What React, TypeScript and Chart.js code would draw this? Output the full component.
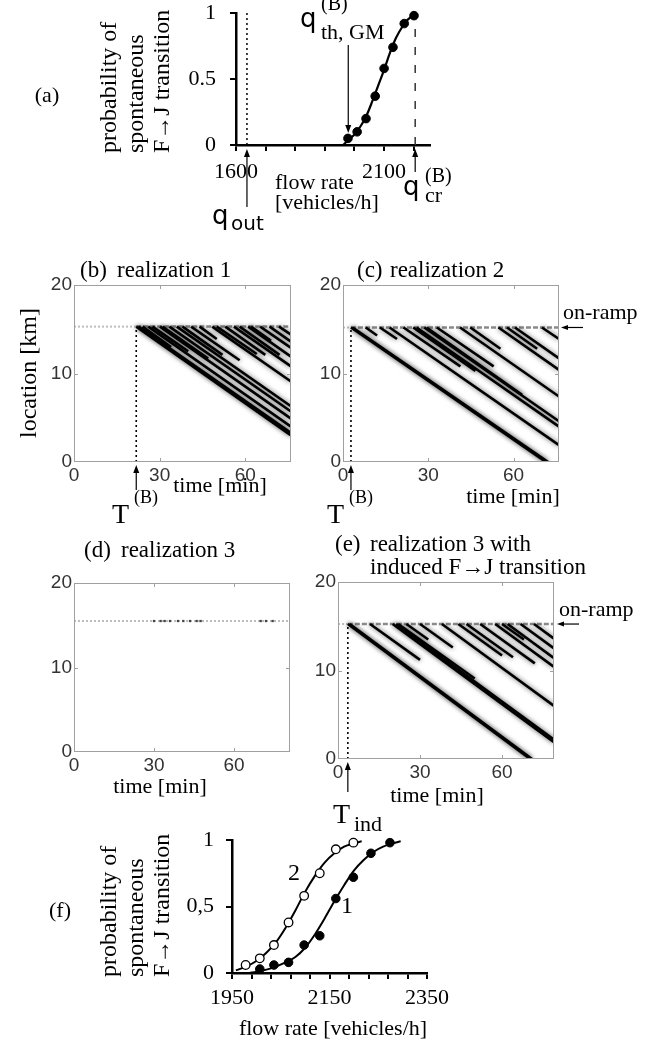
import React, { useEffect, useRef } from 'react';
import { Chart, registerables } from 'chart.js';

Chart.register(...registerables);

const PAGE_W = 653;
const PAGE_H = 1040;
const SERIF = '"Liberation Serif", "Times New Roman", Times, serif';
const SANS = '"Liberation Sans", Arial, Helvetica, sans-serif';
const QSANS = '"DejaVu Sans", "Liberation Sans", sans-serif';
const AXIS_W = 60;
const AXIS_H = 50;

// ---------- (a) probability vs flow rate ----------
const aFlow = [1978, 2009, 2039, 2070, 2100, 2130, 2168, 2201];
const aProb = [0.05, 0.10, 0.20, 0.37, 0.58, 0.74, 0.92, 0.98];
const aCurveFlow = [1962, 1980, 2000, 2020, 2040, 2060, 2080, 2100, 2120, 2140, 2160, 2180, 2200, 2212];
const aCurveProb = [0.0, 0.04, 0.08, 0.14, 0.22, 0.33, 0.45, 0.57, 0.70, 0.81, 0.89, 0.95, 0.98, 0.99];
const aXTicks = [1600, 1700, 1800, 1900, 2000, 2100, 2200];
const aXLabels = [1600, 2100];
const aYTicks = [0, 0.5, 1];
const aYLabels = ['0', '0.5', '1'];
const qOut = 1637;
const qThGM = 1979;
const qCr = 2205;

// ---------- (f) two probability curves ----------
const fFlow1 = [2007, 2036, 2066, 2098, 2130, 2163, 2199, 2235, 2274];
const fProb1 = [0.03, 0.06, 0.08, 0.21, 0.28, 0.56, 0.72, 0.90, 0.98];
const fFlow2 = [1978, 2007, 2036, 2066, 2098, 2130, 2163, 2199];
const fProb2 = [0.06, 0.11, 0.21, 0.38, 0.58, 0.75, 0.93, 0.98];
const fCurve1Flow = [1986, 2000, 2030, 2060, 2080, 2100, 2120, 2140, 2160, 2180, 2200, 2220, 2240, 2260, 2280, 2296];
const fCurve1Prob = [0.0, 0.01, 0.035, 0.08, 0.12, 0.19, 0.29, 0.41, 0.54, 0.66, 0.77, 0.85, 0.91, 0.95, 0.975, 0.99];
const fCurve2Flow = [1958, 1980, 2000, 2020, 2040, 2060, 2080, 2100, 2120, 2140, 2160, 2180, 2200, 2216];
const fCurve2Prob = [0.02, 0.05, 0.09, 0.15, 0.23, 0.34, 0.47, 0.61, 0.73, 0.83, 0.90, 0.95, 0.975, 0.99];
const fXTicks = [1950, 1990, 2030, 2070, 2110, 2150, 2190, 2230, 2270, 2310, 2350];
const fXLabels = [1950, 2150, 2350];
const fYTicks = [0, 0.5, 1];
const fYLabels = ['0', '0,5', '1'];

// ---------- space-time diagrams (b)-(e) ----------
const stXTicks = [0, 30, 60];
const stYTicks = [0, 10, 20];

const bOnRamp = 15.3;
const bT = 21.8;
const bTmax = 76;
const bJamStart = [21.8, 22.6, 26.0, 30.1, 33.4, 36.0, 48.4, 56.0, 61.0, 65.2, 68.5, 71.8, 24.0, 27.5, 31.0, 38.0, 41.0, 44.0, 50.0, 53.0, 58.0, 62.0];
const bJamEnd = [76, 76, 76, 76, 76, 76, 76, 76, 76, 76, 76, 76, 34, 40, 47, 52, 58, 50, 64, 67, 72, 69];
const bJamEndKm = [3.0, 3.3, 4.0, 4.9, 5.7, 6.3, 9.1, 10.8, 11.9, 12.9, 13.6, 14.4, 13.0, 12.5, 11.7, 12.1, 11.5, 13.9, 12.2, 12.1, 12.1, 13.7];

const cOnRamp = 15.2;
const cT = 2.8;
const cTmax = 76;
const cJamStart = [2.8, 3.4, 16.4, 25.9, 28.6, 41.2, 54.7, 60.5, 70.0, 21.3, 24.7, 29.4, 33.0, 44.8, 57.7, 8.0, 13.0];
const cJamEnd = [71.4, 72.2, 76, 76, 76, 76, 76, 76, 76, 41.3, 46.6, 63.0, 53.0, 55.4, 68.3, 12.0, 19.0];
const cJamEndKm = [0, 0, 1.9, 4.0, 4.6, 7.4, 10.4, 11.7, 13.9, 10.8, 10.3, 7.6, 10.8, 12.8, 12.8, 14.3, 13.9];

const dOnRamp = 15.5;
const dTmax = 81;
const dSpots = [30, 32.5, 34, 36, 39, 41, 43.5, 46, 47.5, 70, 72, 74.5];

const eOnRamp = 15.25;
const eT = 3.6;
const eTmax = 79;
const eJamStart = [3.6, 4.3, 20.0, 21.2, 38.0, 57.5, 62.0, 66.8, 71.7, 11.7, 22.0, 25.0, 30.0, 44.0, 47.0, 52.0, 60.0];
const eJamEnd = [70.3, 71.0, 79, 79, 79, 79, 79, 79, 79, 30.0, 50.0, 33.0, 42.0, 60.0, 64.0, 72.0, 68.0];
const eJamEndKm = [0, 0, 1.9, 2.2, 6.0, 10.4, 11.4, 12.5, 13.6, 11.2, 9.1, 13.5, 12.6, 11.7, 11.5, 10.8, 13.5];

// ---------- helpers ----------
type Box = { left: number; top: number; right: number; bottom: number };

// off: the canvas is shifted up by `off` px so that chart areas can start near the page top
const layoutFor = (b: Box, off: number) => ({
  padding: { left: b.left - AXIS_W, top: b.top + off, right: PAGE_W - b.right, bottom: PAGE_H - b.bottom - AXIS_H },
});

const pts = (xs: number[], ys: number[]) => xs.map((x, i) => ({ x, y: ys[i] }));

function text(ctx: any, s: string, x: number, y: number, size: number, opt: any = {}) {
  ctx.save();
  ctx.font = `${size}px ${opt.family || SERIF}`;
  ctx.textAlign = opt.align || 'left';
  ctx.textBaseline = 'alphabetic';
  ctx.fillStyle = opt.color || '#000';
  ctx.fillText(s, x, y);
  ctx.restore();
}

function rotLines(ctx: any, lines: string[], xs: number[], bottom: number, size: number) {
  lines.forEach((s, i) => {
    ctx.save();
    ctx.translate(xs[i], bottom);
    ctx.rotate(-Math.PI / 2);
    ctx.font = `${size}px ${SERIF}`;
    ctx.textAlign = 'left';
    ctx.textBaseline = 'middle';
    ctx.fillStyle = '#000';
    ctx.fillText(s, 0, 0);
    ctx.restore();
  });
}

function rotCenter(ctx: any, s: string, x: number, y: number, size: number) {
  ctx.save();
  ctx.translate(x, y);
  ctx.rotate(-Math.PI / 2);
  ctx.font = `${size}px ${SERIF}`;
  ctx.textAlign = 'center';
  ctx.textBaseline = 'middle';
  ctx.fillStyle = '#000';
  ctx.fillText(s, 0, 0);
  ctx.restore();
}

function arrow(ctx: any, x1: number, y1: number, x2: number, y2: number, lw = 1.2, head = 8, hw = 3) {
  const ang = Math.atan2(y2 - y1, x2 - x1);
  const c = Math.cos(ang);
  const s = Math.sin(ang);
  ctx.save();
  ctx.strokeStyle = '#000';
  ctx.fillStyle = '#000';
  ctx.lineWidth = lw;
  ctx.beginPath();
  ctx.moveTo(x1, y1);
  ctx.lineTo(x2 - head * 0.7 * c, y2 - head * 0.7 * s);
  ctx.stroke();
  ctx.beginPath();
  ctx.moveTo(x2, y2);
  ctx.lineTo(x2 - head * c + hw * s, y2 - head * s - hw * c);
  ctx.lineTo(x2 - head * c - hw * s, y2 - head * s + hw * c);
  ctx.closePath();
  ctx.fill();
  ctx.restore();
}

const haloPlugin = {
  id: 'halo',
  beforeDatasetDraw(chart: any, args: any) {
    const ds = chart.data.datasets[args.index];
    if (ds.halo) {
      const c = chart.ctx;
      c.save();
      c.shadowColor = 'rgba(0,0,0,0.65)';
      c.shadowBlur = 5;
    }
  },
  afterDatasetDraw(chart: any, args: any) {
    const ds = chart.data.datasets[args.index];
    if (ds.halo) chart.ctx.restore();
  },
};

const framePlugin = {
  id: 'frame',
  afterDatasetsDraw(chart: any) {
    const { ctx, chartArea: a, scales } = chart;
    ctx.save();
    ctx.strokeStyle = '#a0a0a0';
    ctx.lineWidth = 1;
    ctx.strokeRect(Math.round(a.left) + 0.5, Math.round(a.top) + 0.5, Math.round(a.right - a.left) - 1, Math.round(a.bottom - a.top) - 1);
    ctx.beginPath();
    stXTicks.slice(1).forEach((v) => {
      const px = Math.round(scales.x.getPixelForValue(v)) + 0.5;
      ctx.moveTo(px, a.top);
      ctx.lineTo(px, a.top + 4);
      ctx.moveTo(px, a.bottom);
      ctx.lineTo(px, a.bottom - 4);
    });
    stYTicks.slice(1, -1).forEach((v) => {
      const py = Math.round(scales.y.getPixelForValue(v)) + 0.5;
      ctx.moveTo(a.left, py);
      ctx.lineTo(a.left + 4, py);
      ctx.moveTo(a.right, py);
      ctx.lineTo(a.right - 4, py);
    });
    ctx.stroke();
    ctx.restore();
  },
};

function annPlugin(off: number, ann: (chart: any) => void) {
  return {
    id: 'ann',
    afterDraw(chart: any) {
      chart.ctx.save();
      chart.ctx.translate(0, off);
      ann(chart);
      chart.ctx.restore();
    },
  };
}

function baseOptions(box: Box, off: number) {
  return {
    responsive: false,
    animation: false,
    devicePixelRatio: 1,
    events: [],
    layout: layoutFor(box, off),
    plugins: { legend: { display: false }, tooltip: { enabled: false } },
  };
}

// ---------- space-time chart config ----------
function jamDatasets(start: number[], end: number[], endKm: number[], onRamp: number) {
  return start.map((t0, i) => ({
    data: [{ x: t0, y: onRamp }, { x: end[i], y: endKm[i] }],
    showLine: true,
    borderColor: '#000',
    borderWidth: 2.6,
    pointRadius: 0,
    halo: true,
  }));
}

function onRampDatasets(onRamp: number, t: number, tmax: number) {
  return [
    { data: [{ x: 0, y: onRamp }, { x: t, y: onRamp }], showLine: true, borderColor: '#bdbdbd', borderWidth: 2, borderDash: [2, 2], pointRadius: 0 },
    { data: [{ x: t, y: onRamp }, { x: tmax, y: onRamp }], showLine: true, borderColor: '#8a8a8a', borderWidth: 2.5, borderDash: [5, 2], pointRadius: 0 },
    { data: [{ x: t, y: 0 }, { x: t, y: onRamp }], showLine: true, borderColor: '#000', borderWidth: 1.6, borderDash: [2, 3], pointRadius: 0, clip: false },
  ];
}

function stConfig(box: Box, xMax: number, datasets: any[], ann: (chart: any) => void) {
  return {
    type: 'scatter',
    data: { datasets },
    options: {
      ...baseOptions(box, 0),
      scales: {
        x: {
          type: 'linear',
          min: 0,
          max: xMax,
          afterBuildTicks: (s: any) => { s.ticks = stXTicks.map((v) => ({ value: v })); },
          afterFit: (s: any) => { s.height = AXIS_H; },
          grid: { display: false, drawTicks: false },
          border: { display: false },
          ticks: { font: { family: SANS, size: 19 }, color: '#333', padding: 2, autoSkip: false, maxRotation: 0, minRotation: 0, callback: (v: any) => String(v) },
        },
        y: {
          type: 'linear',
          min: 0,
          max: 20,
          afterBuildTicks: (s: any) => { s.ticks = stYTicks.map((v) => ({ value: v })); },
          afterFit: (s: any) => { s.width = AXIS_W; },
          grid: { display: false, drawTicks: false },
          border: { display: false },
          ticks: { font: { family: SANS, size: 19 }, color: '#333', padding: 2, autoSkip: false, callback: (v: any) => String(v) },
        },
      },
    },
    plugins: [haloPlugin, framePlugin, annPlugin(0, ann)],
  };
}

// ---------- probability chart config ----------
function probConfig(box: Box, off: number, xMin: number, xMax: number, xTicks: number[], xLabels: number[], yLabels: string[], yTicks: number[], xPad: number, yPad: number, datasets: any[], ann: (chart: any) => void) {
  const tickFont = { family: SERIF, size: 22 };
  return {
    type: 'scatter',
    data: { datasets },
    options: {
      ...baseOptions(box, off),
      scales: {
        x: {
          type: 'linear',
          min: xMin,
          max: xMax,
          afterBuildTicks: (s: any) => { s.ticks = xTicks.map((v) => ({ value: v })); },
          afterFit: (s: any) => { s.height = AXIS_H; },
          grid: { display: true, drawOnChartArea: false, drawTicks: true, tickLength: 6, color: '#000', lineWidth: 2 },
          border: { display: true, color: '#000', width: 2.5 },
          ticks: { font: tickFont, color: '#000', padding: xPad, autoSkip: false, maxRotation: 0, minRotation: 0, callback: (v: any) => (xLabels.includes(v) ? String(v) : '') },
        },
        y: {
          type: 'linear',
          min: 0,
          max: 1,
          afterBuildTicks: (s: any) => { s.ticks = yTicks.map((v) => ({ value: v })); },
          afterFit: (s: any) => { s.width = AXIS_W; },
          grid: { display: true, drawOnChartArea: false, drawTicks: true, tickLength: 6, color: '#000', lineWidth: 2 },
          border: { display: true, color: '#000', width: 2.5 },
          ticks: { font: tickFont, color: '#000', padding: yPad, autoSkip: false, callback: (v: any) => { const i = yTicks.indexOf(v); return i >= 0 ? yLabels[i] : ''; } },
        },
      },
    },
    plugins: [annPlugin(off, ann)],
  };
}

const probLabel = ['probability of', 'spontaneous', 'F\u2192J transition'];
const A_OFF = 30;

function configA() {
  const box = { left: 236, top: 13, right: 430, bottom: 145 };
  const datasets = [
    { data: pts(aFlow, aProb), showLine: false, pointRadius: 4.3, backgroundColor: '#000', borderColor: '#000', clip: false },
    { data: pts(aCurveFlow, aCurveProb), showLine: true, borderColor: '#000', borderWidth: 2.2, pointRadius: 0, cubicInterpolationMode: 'monotone', clip: false },
    { data: [{ x: qOut, y: 0 }, { x: qOut, y: 1 }], showLine: true, borderColor: '#000', borderWidth: 1.5, borderDash: [2, 3], pointRadius: 0, clip: false },
    { data: [{ x: qCr, y: 0 }, { x: qCr, y: 1 }], showLine: true, borderColor: '#333', borderWidth: 1.5, borderDash: [8, 10], pointRadius: 0, clip: false },
  ];
  const ann = (chart: any) => {
    const { ctx, scales: { x } } = chart;
    text(ctx, '(a)', 47, 102, 22, { align: 'center' });
    rotLines(ctx, probLabel, [110, 137, 163], 153, 24);
    const xo = x.getPixelForValue(qOut);
    arrow(ctx, xo, 207, xo, 149);
    text(ctx, 'q', 212, 224, 26, { family: QSANS });
    text(ctx, 'out', 231, 230, 20, { family: QSANS });
    const xt = x.getPixelForValue(qThGM);
    arrow(ctx, xt, 45, xt, 133);
    text(ctx, 'q', 300, 27, 26, { family: QSANS });
    text(ctx, '(B)', 321, 10, 20);
    text(ctx, 'th, GM', 321, 39, 22);
    text(ctx, 'flow rate', 275, 189, 22);
    text(ctx, '[vehicles/h]', 275, 209, 22);
    const xc = x.getPixelForValue(qCr);
    arrow(ctx, xc, 172, xc, 149);
    text(ctx, 'q', 403, 195, 26, { family: QSANS });
    text(ctx, 'cr', 425, 202, 22);
    text(ctx, '(B)', 425, 182, 20);
  };
  return probConfig(box, A_OFF, 1600, 2255, aXTicks, aXLabels, aYLabels, aYTicks, 8, 14, datasets, ann);
}

function configF() {
  const box = { left: 232, top: 840, right: 427, bottom: 973 };
  const datasets = [
    { data: pts(fFlow2, fProb2), showLine: false, pointRadius: 4.3, backgroundColor: '#fff', borderColor: '#000', borderWidth: 1.3, clip: false },
    { data: pts(fFlow1, fProb1), showLine: false, pointRadius: 4.3, backgroundColor: '#000', borderColor: '#000', clip: false },
    { data: pts(fCurve2Flow, fCurve2Prob), showLine: true, borderColor: '#000', borderWidth: 2, pointRadius: 0, cubicInterpolationMode: 'monotone', clip: false },
    { data: pts(fCurve1Flow, fCurve1Prob), showLine: true, borderColor: '#000', borderWidth: 2, pointRadius: 0, cubicInterpolationMode: 'monotone', clip: false },
  ];
  const ann = (chart: any) => {
    const { ctx } = chart;
    text(ctx, '(f)', 60, 917, 22, { align: 'center' });
    rotLines(ctx, probLabel, [110, 137, 163], 977, 24);
    text(ctx, 'flow rate [vehicles/h]', 333, 1035, 22, { align: 'center' });
    text(ctx, '2', 294, 880, 24, { align: 'center' });
    text(ctx, '1', 347, 913, 24, { align: 'center' });
  };
  return probConfig(box, 0, 1950, 2350, fXTicks, fXLabels, fYLabels, fYTicks, 6, 12, datasets, ann);
}

function configB() {
  const box = { left: 74, top: 285, right: 291, bottom: 462 };
  const datasets = [...jamDatasets(bJamStart, bJamEnd, bJamEndKm, bOnRamp), ...onRampDatasets(bOnRamp, bT, bTmax)];
  const ann = (chart: any) => {
    const { ctx, scales: { x } } = chart;
    text(ctx, '(b)', 80, 277, 23);
    text(ctx, 'realization 1', 117, 277, 23);
    rotCenter(ctx, 'location [km]', 30, 373, 24);
    text(ctx, 'time [min]', 220, 492, 22, { align: 'center' });
    const tx = x.getPixelForValue(bT);
    arrow(ctx, tx, 490, tx, 465);
    text(ctx, 'T', 112, 523, 28);
    text(ctx, '(B)', 134, 503, 18);
  };
  return stConfig(box, bTmax, datasets, ann);
}

function configC() {
  const box = { left: 343, top: 285, right: 559, bottom: 462 };
  const datasets = [...jamDatasets(cJamStart, cJamEnd, cJamEndKm, cOnRamp), ...onRampDatasets(cOnRamp, cT, cTmax)];
  const ann = (chart: any) => {
    const { ctx, scales: { x, y } } = chart;
    text(ctx, '(c)', 357, 277, 23);
    text(ctx, 'realization 2', 390, 277, 23);
    text(ctx, 'time [min]', 513, 503, 22, { align: 'center' });
    const tx = x.getPixelForValue(cT);
    arrow(ctx, tx, 490, tx, 465);
    text(ctx, 'T', 327, 523, 28);
    text(ctx, '(B)', 349, 503, 18);
    const ry = y.getPixelForValue(cOnRamp);
    text(ctx, 'on-ramp', 563, ry - 8, 22);
    arrow(ctx, 583, ry, 561, ry, 1.2, 7, 2.5);
  };
  return stConfig(box, cTmax, datasets, ann);
}

function configD() {
  const box = { left: 74, top: 583, right: 290, bottom: 752 };
  const datasets = [
    { data: dSpots.map((t) => ({ x: t, y: dOnRamp })), showLine: false, pointStyle: 'rect', pointRadius: 1.6, backgroundColor: '#444', borderColor: '#444', borderWidth: 0 },
    { data: [{ x: 0, y: dOnRamp }, { x: dTmax, y: dOnRamp }], showLine: true, borderColor: '#bdbdbd', borderWidth: 2, borderDash: [2, 2], pointRadius: 0 },
  ];
  const ann = (chart: any) => {
    const { ctx } = chart;
    text(ctx, '(d)', 84, 557, 23);
    text(ctx, 'realization 3', 121, 557, 23);
    text(ctx, 'time [min]', 160, 793, 22, { align: 'center' });
  };
  return stConfig(box, dTmax, datasets, ann);
}

function configE() {
  const box = { left: 338, top: 582, right: 554, bottom: 759 };
  const datasets = [...jamDatasets(eJamStart, eJamEnd, eJamEndKm, eOnRamp), ...onRampDatasets(eOnRamp, eT, eTmax)];
  const ann = (chart: any) => {
    const { ctx, scales: { x, y } } = chart;
    text(ctx, '(e)', 335, 551, 23);
    text(ctx, 'realization 3 with', 370, 551, 23);
    text(ctx, 'induced F\u2192J transition', 370, 574, 23);
    text(ctx, 'time [min]', 437, 802, 22, { align: 'center' });
    const tx = x.getPixelForValue(eT);
    arrow(ctx, tx, 792, tx, 762);
    text(ctx, 'T', 333, 823, 28);
    text(ctx, 'ind', 354, 831, 22);
    const ry = y.getPixelForValue(eOnRamp);
    text(ctx, 'on-ramp', 559, ry - 8, 22);
    arrow(ctx, 579, ry, 557, ry, 1.2, 7, 2.5);
  };
  return stConfig(box, eTmax, datasets, ann);
}

function Panel({ make, off = 0 }: { make: () => any; off?: number }) {
  const ref = useRef<HTMLCanvasElement>(null);
  useEffect(() => {
    const chart = new Chart(ref.current as HTMLCanvasElement, make());
    return () => chart.destroy();
  }, []);
  return (
    <canvas
      ref={ref}
      width={PAGE_W}
      height={PAGE_H + off}
      style={{ position: 'absolute', left: 0, top: -off, width: PAGE_W, height: PAGE_H + off }}
    />
  );
}

export default function App() {
  return (
    <div style={{ position: 'absolute', left: 0, top: 0, width: PAGE_W, height: PAGE_H, background: '#fff', overflow: 'hidden' }}>
      <Panel make={configA} off={A_OFF} />
      <Panel make={configB} />
      <Panel make={configC} />
      <Panel make={configD} />
      <Panel make={configE} />
      <Panel make={configF} />
    </div>
  );
}
